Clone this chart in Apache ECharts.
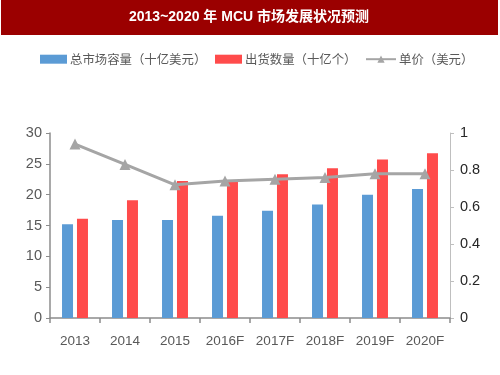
<!DOCTYPE html>
<html><head><meta charset="utf-8">
<script src="https://cdn.jsdelivr.net/npm/echarts@6/dist/echarts.min.js"></script>
<style>html,body{margin:0;padding:0;background:#fff}#c{width:500px;height:375px}</style>
</head><body><div id="c"></div>
<script>
const titleText = '2013~2020 年 MCU 市场发展状况预测';
const categories = ['2013','2014','2015','2016F','2017F','2018F','2019F','2020F'];
const marketSize = [15.2, 15.9, 15.9, 16.6, 17.4, 18.4, 20.0, 20.9];
const shipments = [16.1, 19.1, 22.2, 22.1, 23.3, 24.3, 25.7, 26.7];
const unitPrice = [0.94, 0.83, 0.72, 0.74, 0.75, 0.76, 0.78, 0.78];
const seriesNames = ['总市场容量（十亿美元）','出货数量（十亿个）','单价（美元）'];

const numFont = '"Liberation Sans Narrow", "Liberation Sans", sans-serif';
const cjkFont = '"Noto Sans CJK SC", sans-serif';
const chart = echarts.init(document.getElementById('c'), null, {renderer:'canvas'});
const axisColor = '#8c8c8c';
const labelColor = '#595959';
const legendBase = {
  top: 53, itemHeight: 9, padding: 0,
  textStyle: {color: labelColor, fontSize: 12.4, fontFamily: cjkFont, padding:[0,0,0,-2]}
};
chart.setOption({
  animation: false,
  graphic: [
    {type:'rect', shape:{x:1, y:0, width:497, height:35}, style:{fill:'#9b0000'}, z:0},
    {type:'text', x:249, y:17, style:{text:titleText, fill:'#fff', font:'bold 14px "Liberation Sans", "Noto Sans CJK SC", sans-serif', textAlign:'center', textVerticalAlign:'middle'}, z:1}
  ],
  legend: [
    Object.assign({}, legendBase, {left: 40, itemWidth: 27, data: [{name: seriesNames[0], icon:'rect'}]}),
    Object.assign({}, legendBase, {left: 215, itemWidth: 27, data: [{name: seriesNames[1], icon:'rect'}]}),
    Object.assign({}, legendBase, {left: 365, itemWidth: 30, data: [{name: seriesNames[2]}]})
  ],
  grid: {left: 50, right: 50, top: 133, bottom: 57},
  xAxis: {
    type: 'category', data: categories,
    axisLine: {lineStyle: {color: axisColor, width: 1.5}},
    axisTick: {show: true, length: 5, lineStyle: {color: axisColor, width:1.5}},
    axisLabel: {color: labelColor, fontSize: 13.5, fontFamily: numFont, margin: 16, interval: 0}
  },
  yAxis: [
    {type:'value', min:0, max:30, interval:5,
     axisLine:{show:true, lineStyle:{color:axisColor, width:1.5}},
     axisTick:{show:true, length:4, lineStyle:{color:axisColor}},
     splitLine:{show:false},
     axisLabel:{color:labelColor, fontSize:14.5, fontFamily:numFont, margin:8}},
    {type:'value', min:0, max:1, interval:0.2, position:'right',
     axisLine:{show:true, lineStyle:{color:'#bfbfbf', width:1}},
     axisTick:{show:true, length:4, lineStyle:{color:'#bfbfbf'}},
     splitLine:{show:false},
     axisLabel:{color:'#262626', fontSize:14.5, fontFamily:numFont, margin:10,
       formatter: v => String(Math.round(v*10)/10)}}
  ],
  series: [
    {name: seriesNames[0], type:'bar', data: marketSize, barWidth: 11, barGap:'36%',
     itemStyle:{color:'#5b9bd5'}},
    {name: seriesNames[1], type:'bar', data: shipments, barWidth: 11,
     itemStyle:{color:'#ff4b4b'}},
    {name: seriesNames[2], type:'line', yAxisIndex:1, data: unitPrice,
     symbol:'triangle', symbolSize: 11,
     lineStyle:{color:'#a5a5a5', width:3}, itemStyle:{color:'#a5a5a5'}}
  ]
});
</script></body></html>
